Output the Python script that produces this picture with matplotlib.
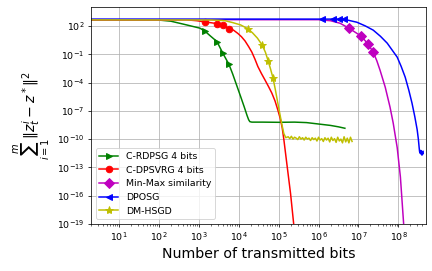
import matplotlib
matplotlib.use("Agg")
import matplotlib.pyplot as plt
import numpy as np

# curves, as log10(bits) and log10(error)
rdpsg_lx = [0.3, 1.95, 2.3, 2.7, 3.03, 3.155, 3.3, 3.456, 3.606, 3.757, 3.85, 3.95, 4.05,
            4.14, 4.21, 4.25, 4.28, 4.33, 4.6, 5.0, 5.4, 5.7, 5.9, 6.1, 6.3, 6.5, 6.66]
rdpsg_ly = [2.64, 2.64, 2.5, 2.1, 1.76, 1.44, 0.9, 0.34, -0.92, -2.08, -3.1, -4.3, -5.5,
            -6.6, -7.5, -7.95, -8.15, -8.2, -8.2, -8.22, -8.2, -8.25, -8.35, -8.45, -8.55,
            -8.7, -8.85]
rdpsg_marks = [5, 7, 8, 9]

dpsvrg_lx = [0.3, 2.7, 2.95, 3.155, 3.456, 3.606, 3.757, 3.87, 3.98, 4.07, 4.16, 4.25, 4.33,
             4.41, 4.48, 4.57, 4.66, 4.75, 4.83, 4.91, 4.98, 5.04, 5.09, 5.13, 5.2, 5.3, 5.39]
dpsvrg_ly = [2.64, 2.64, 2.55, 2.42, 2.25, 2.07, 1.72, 1.55, 1.2, 0.85, 0.4, -0.2, -0.78,
             -1.55, -2.3, -3.05, -3.74, -4.45, -5.12, -5.95, -6.9, -7.8, -8.8, -10.0, -12.4,
             -15.8, -19.5]
dpsvrg_marks = [3, 4, 5, 6]

minmax_lx = [0.3, 6.0, 6.3, 6.54, 6.76, 7.07, 7.24, 7.37, 7.46, 7.54, 7.67, 7.79, 7.87,
             7.97, 8.05, 8.14]
minmax_ly = [2.66, 2.66, 2.55, 2.28, 1.76, 0.91, 0.07, -0.78, -1.7, -2.69, -4.49, -6.6, -8.3,
             -10.9, -14.0, -19.5]
minmax_marks = [4, 5, 6, 7]

dposg_lx = [0.3, 6.09, 6.36, 6.51, 6.64, 6.96, 7.17, 7.37, 7.55, 7.72, 7.85, 7.97, 8.07, 8.17,
            8.26, 8.34, 8.41, 8.47, 8.5, 8.52, 8.53, 8.545, 8.56, 8.57, 8.58, 8.59, 8.6,
            8.61, 8.62]
dposg_ly = [2.72, 2.72, 2.72, 2.71, 2.7, 2.39, 2.0, 1.55, 0.9, 0.17, -0.6, -1.31, -2.3, -3.43,
            -4.8, -6.17, -7.6, -9.0, -10.0, -10.9, -11.3, -11.5, -11.2, -11.6, -11.3,
            -11.7, -11.4, -11.6, -11.3]
dposg_marks = [1, 2, 3, 4]

dmhsgd_lx = [0.3, 3.3, 3.5, 3.66, 3.85, 4.05, 4.23, 4.35, 4.47, 4.59, 4.67, 4.74, 4.8, 4.86,
             4.92, 4.98, 5.03, 5.08, 5.13, 5.18, 5.24,
             5.28, 5.32, 5.36, 5.4, 5.44, 5.48, 5.52, 5.56, 5.6, 5.64, 5.68, 5.72, 5.76,
             5.8, 5.84, 5.88, 5.92, 5.96, 6.0, 6.04, 6.08, 6.12, 6.16, 6.2, 6.24, 6.28,
             6.32, 6.36, 6.4, 6.44, 6.48, 6.52, 6.56, 6.6, 6.64, 6.68, 6.72, 6.76, 6.8, 6.84]
dmhsgd_ly = [2.64, 2.63, 2.6, 2.55, 2.35, 2.1, 1.7, 1.25, 0.7, -0.04, -0.8, -1.73, -2.6,
             -3.53, -4.8, -6.17, -7.3, -8.4, -9.4, -9.85, -9.75,
             -9.95, -9.7, -10.0, -9.8, -9.9, -10.05, -9.75, -10.0, -9.85, -10.1, -9.8,
             -10.0, -9.9, -10.15, -9.85, -10.05, -9.9, -10.2, -9.8, -10.1, -9.95, -10.25,
             -9.85, -10.1, -9.9, -10.3, -9.8, -10.15, -9.95, -10.35, -9.8, -10.2, -10.0,
             -10.4, -9.75, -10.3, -9.9, -10.4, -9.8, -10.25]
dmhsgd_marks = [6, 9, 11, 13]

LABELS = ["C-RDPSG 4 bits", "C-DPSVRG 4 bits", "Min-Max similarity", "DPOSG", "DM-HSGD"]
COLORS = ["g", "r", "m", "b", "y"]
MARKERS = [">", "o", "D", "<", "*"]


def main():
    fig = plt.figure(figsize=(6.4, 4.015), dpi=67.5)
    ax = fig.add_axes([0.2106, 0.1734, 0.7754, 0.8006])

    curves = [
        (rdpsg_lx, rdpsg_ly, rdpsg_marks),
        (dpsvrg_lx, dpsvrg_ly, dpsvrg_marks),
        (minmax_lx, minmax_ly, minmax_marks),
        (dposg_lx, dposg_ly, dposg_marks),
        (dmhsgd_lx, dmhsgd_ly, dmhsgd_marks),
    ]
    for (lx, ly, marks), label, c, m in zip(curves, LABELS, COLORS, MARKERS):
        ax.plot(10.0 ** np.array(lx), 10.0 ** np.array(ly), color=c, marker=m,
                markevery=marks, linewidth=1.6, markersize=9 if m == "*" else 7,
                label=label)

    ax.set_xscale("log")
    ax.set_yscale("log")
    ax.set_xlim(2, 4.9e8)
    ax.set_ylim(1e-19, 1e4)
    ax.grid(True)
    ax.set_xlabel("Number of transmitted bits", fontsize=15)
    ax.set_ylabel(r"$\sum_{i=1}^{m}\|z_t^i - z^*\|^2$", fontsize=15)
    ax.legend(loc="lower left", fontsize=10)
    fig.savefig("out.png", dpi=67.5)


if __name__ == "__main__":
    main()
